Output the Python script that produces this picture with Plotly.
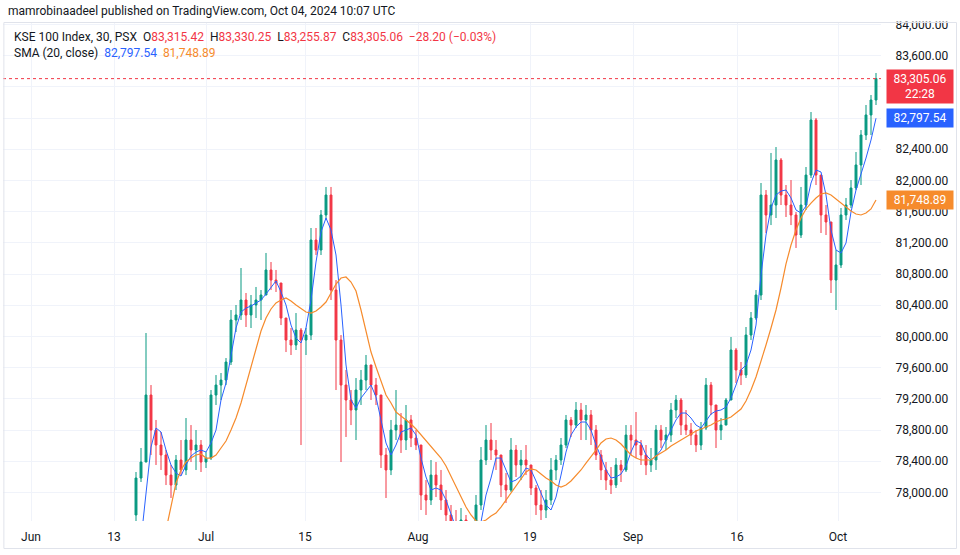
import plotly.graph_objects as go

# ---------------- data (30-min KSE 100 bars, aggregated) ----------------
opens = [
    77711, 78185, 78390, 79249, 78800, 78608, 78480, 78223, 78095, 78416,
    78288, 78672, 78544, 78608, 78390, 78441, 79249, 79377, 79441, 79672,
    80211, 80275, 80467, 80275, 80403, 80467, 80531, 80852, 80723, 80685,
    80236, 79954, 79890, 80082, 79954, 80018, 81236, 81108, 81557, 81813,
    80595, 79954, 79377, 79185, 79057, 79313, 79441, 79634, 79377, 79249,
    78480, 78288, 78800, 78864, 78672, 78929, 78698, 78608, 77967, 77903,
    78223, 78095, 77903, 77711, 77582, 77518, 77647, 77390, 77326, 77839,
    78416, 78672, 78544, 78480, 78095, 78031, 78544, 78352, 78416, 78352,
    78057, 77839, 77775, 77903, 78288, 78416, 78608, 78929, 78864, 79057,
    78929, 78993, 78800, 78480, 78288, 78159, 78095, 78352, 78288, 78736,
    78672, 78608, 78480, 78352, 78416, 78800, 78672, 78736, 79057, 79185,
    78864, 78800, 78736, 78608, 78826, 79377, 79121, 78800, 78864, 79185,
    79826, 79570, 79505, 80018, 80236, 80531, 81813, 81557, 81685, 82262,
    81813, 81685, 81557, 81300, 81685, 82069, 82775, 82069, 81557, 81467,
    80723, 80916, 81557, 81685, 81903, 82198, 82582, 82839, 83031,
]
highs = [
    78262, 78570, 80044, 79377, 78929, 78775, 78544, 78352, 78480, 78672,
    78954, 78864, 78800, 78672, 78518, 79313, 79505, 79531, 79723, 80339,
    80403, 80877, 80557, 80531, 80634, 80595, 81070, 80954, 80852, 80685,
    80236, 80108, 80300, 80108, 80108, 81390, 81390, 81621, 81916, 81916,
    80723, 80018, 79570, 79313, 79467, 79570, 79762, 79634, 79467, 79249,
    78570, 78929, 79313, 79018, 79121, 78993, 78800, 78608, 78159, 78416,
    78390, 78288, 78031, 77839, 77775, 77800, 77711, 77582, 77967, 78582,
    78864, 78890, 78672, 78480, 78249, 78698, 78608, 78544, 78608, 78352,
    78095, 78031, 78031, 78441, 78480, 78698, 78993, 78967, 79159, 79147,
    79121, 79057, 78864, 78544, 78390, 78326, 78441, 78416, 78864, 78864,
    79031, 78672, 78608, 78570, 78864, 78864, 78839, 79147, 79249, 79211,
    79057, 78890, 78800, 78903, 79467, 79416, 79121, 78954, 79211, 79993,
    79852, 79672, 80121, 80313, 80595, 81967, 81877, 82352, 82428, 82287,
    81941, 82005, 81595, 81916, 82172, 82877, 82800, 82069, 81685, 81467,
    81108, 81646, 81775, 82005, 82364, 82646, 82967, 83095, 83377,
]
lows = [
    77634, 78134, 78390, 78480, 78352, 78288, 78095, 77929, 78031, 78223,
    78223, 78390, 78288, 78262, 78313, 78416, 79121, 79185, 79377, 79634,
    80057, 80211, 80121, 80108, 80236, 80211, 80531, 80595, 80570, 80146,
    79800, 79762, 79826, 78608, 79762, 79954, 81044, 81044, 81493, 80467,
    79313, 78390, 78711, 78864, 78672, 79121, 79313, 79185, 79121, 78313,
    77929, 78223, 78672, 78506, 78544, 78582, 78544, 77775, 77711, 77839,
    77941, 77775, 77518, 77390, 77262, 77198, 77134, 77006, 77262, 77775,
    78352, 78416, 78288, 77941, 77865, 78006, 78198, 78159, 78223, 77967,
    77711, 77647, 77672, 77839, 78159, 78352, 78570, 78711, 78826, 78672,
    78672, 78608, 78416, 78159, 78031, 77980, 78057, 78134, 78262, 78480,
    78441, 78352, 78223, 78262, 78288, 78570, 78544, 78647, 78954, 78736,
    78736, 78608, 78518, 78544, 78800, 78993, 78570, 78672, 78864, 79185,
    79403, 79377, 79467, 79954, 80211, 80467, 81326, 81428, 81518, 81685,
    81531, 81428, 81134, 81262, 81621, 82031, 81941, 81326, 81300, 80557,
    80339, 80877, 81493, 81646, 81877, 81941, 82518, 82582, 82967,
]
closes = [
    78185, 78390, 79249, 78800, 78608, 78480, 78223, 78095, 78416, 78288,
    78672, 78544, 78608, 78390, 78441, 79249, 79377, 79441, 79672, 80211,
    80275, 80467, 80275, 80403, 80467, 80531, 80852, 80723, 80685, 80236,
    79954, 79890, 80082, 79954, 80018, 81236, 81108, 81557, 81813, 80595,
    79954, 79377, 79185, 79057, 79313, 79441, 79634, 79377, 79249, 78480,
    78288, 78800, 78864, 78672, 78929, 78698, 78608, 77967, 77903, 78223,
    78095, 77903, 77711, 77582, 77518, 77647, 77390, 77326, 77839, 78416,
    78672, 78544, 78480, 78095, 78031, 78544, 78352, 78416, 78352, 78057,
    77839, 77775, 77903, 78288, 78416, 78608, 78929, 78864, 79057, 78929,
    78993, 78800, 78480, 78288, 78159, 78095, 78352, 78288, 78736, 78672,
    78608, 78480, 78352, 78416, 78800, 78672, 78736, 79057, 79185, 78864,
    78800, 78736, 78608, 78826, 79377, 79121, 78800, 78864, 79185, 79826,
    79570, 79505, 80018, 80236, 80531, 81813, 81557, 81685, 82262, 81813,
    81685, 81557, 81300, 81685, 82069, 82775, 82069, 81557, 81467, 80723,
    80916, 81557, 81685, 81903, 82198, 82582, 82839, 83031, 83305.06,
]
sma_fast = [
    None, 77390, 78031, 78582, 78826, 78775, 78544, 78352, 78249, 78211,
    78352, 78467, 78518, 78544, 78518, 78634, 78800, 79185, 79403, 79762,
    80108, 80313, 80364, 80390, 80429, 80467, 80544, 80634, 80711, 80570,
    80403, 80146, 79980, 79916, 80108, 80467, 80954, 81339, 81518, 81364,
    81044, 80403, 79634, 79185, 79082, 79211, 79288, 79377, 79224, 78929,
    78634, 78480, 78608, 78775, 78800, 78826, 78736, 78441, 78198, 78031,
    78057, 78031, 77903, 77711, 77544, 77454, 77416, 77454, 77518, 77621,
    77967, 78185, 78441, 78441, 78288, 78134, 78159, 78211, 78313, 78288,
    78147, 77993, 77839, 77775, 77941, 78223, 78518, 78736, 78839, 78903,
    78903, 78800, 78608, 78454, 78288, 78185, 78198, 78236, 78339, 78518,
    78659, 78634, 78480, 78416, 78467, 78544, 78672, 78800, 78929, 79018,
    79018, 78954, 78864, 78826, 78916, 79006, 79044, 79057, 79095, 79211,
    79377, 79570, 79634, 79826, 80146, 80787, 81300, 81646, 81813, 81864,
    81877, 81775, 81621, 81582, 81672, 81967, 82134, 82108, 81813, 81364,
    81108, 81070, 81198, 81595, 81877, 82069, 82287, 82518, 82797.54,
]
sma_slow = [
    None, None, None, None, None, None, 77518, 77839, 78122, 78288,
    78390, 78441, 78480, 78493, 78441, 78441, 78480, 78570, 78659, 78800,
    78954, 79147, 79377, 79621, 79864, 80070, 80236, 80352, 80429, 80467,
    80493, 80454, 80403, 80352, 80313, 80300, 80326, 80377, 80441, 80557,
    80672, 80749, 80762, 80698, 80582, 80339, 80082, 79800, 79608, 79441,
    79249, 79147, 79031, 78980, 78929, 78877, 78813, 78736, 78672, 78595,
    78518, 78441, 78339, 78211, 78070, 77941, 77813, 77711, 77634, 77621,
    77647, 77698, 77736, 77813, 77903, 78006, 78095, 78185, 78262, 78301,
    78288, 78236, 78185, 78147, 78095, 78070, 78095, 78147, 78211, 78288,
    78377, 78454, 78544, 78634, 78685, 78698, 78672, 78621, 78544, 78480,
    78441, 78416, 78416, 78416, 78467, 78506, 78544, 78595, 78634, 78672,
    78711, 78749, 78788, 78813, 78839, 78864, 78903, 78929, 78942, 78967,
    79018, 79070, 79172, 79313, 79480, 79672, 79890, 80108, 80339, 80621,
    80929, 81172, 81364, 81518, 81634, 81710, 81775, 81826, 81839, 81813,
    81762, 81710, 81659, 81608, 81570, 81557, 81582, 81634, 81748.89,
]
bar_index = list(range(len(closes)))
tick_labels = ["Jun", "13", "Jul", "15", "Aug", "19", "Sep", "16", "Oct"]
tick_bars = [-21.0, -4.4, 14.0, 33.8, 56.4, 78.8, 99.4, 120.2, 140.4]
price_ticks = list(range(78000, 84001, 400))
hidden_price_labels = [83200, 82800]   # covered by the last-price / SMA tags

# ---------------- styles ----------------
UP = "#089981"
DOWN = "#F23645"
BLUE = "#2962FF"
ORANGE = "#F68B2C"
TXT = "#131722"
GRID = "#F0F3FA"
FONT = "Roboto, Arial, sans-serif"

fig = go.Figure()
fig.add_trace(go.Candlestick(
    x=bar_index, open=opens, high=highs, low=lows, close=closes,
    increasing=dict(line=dict(color=UP, width=1), fillcolor=UP),
    decreasing=dict(line=dict(color=DOWN, width=1), fillcolor=DOWN),
    whiskerwidth=0, showlegend=False, hoverinfo="skip",
))
fig.add_trace(go.Scatter(x=bar_index, y=sma_fast, mode="lines",
                         line=dict(color=BLUE, width=1), showlegend=False,
                         hoverinfo="skip", connectgaps=False))
fig.add_trace(go.Scatter(x=bar_index, y=sma_slow, mode="lines",
                         line=dict(color=ORANGE, width=1.2), showlegend=False,
                         hoverinfo="skip", connectgaps=False))

last_close = closes[-1]
fig.add_shape(type="line", xref="paper", yref="y", x0=0, x1=1,
              y0=last_close, y1=last_close,
              line=dict(color=DOWN, width=1, dash="dot"))

# cover above the frame, then the frame itself
fig.add_shape(type="rect", xref="paper", yref="paper", x0=-0.01, x1=1.1,
              y0=1.001, y1=1.06, fillcolor="white", line=dict(width=0),
              layer="above")
fig.add_shape(type="rect", xref="paper", yref="paper", x0=0.001, x1=1.086,
              y0=-0.0551, y1=0.999, line=dict(color="#E0E3EB", width=1),
              fillcolor="rgba(0,0,0,0)", layer="above")

def red(s):
    return f"<span style='color:{DOWN}'>{s}</span>"

nb = "\u00a0"
line1 = (f"KSE 100 Index, 30, PSX{nb}{nb}O{red('83,315.42')}{nb}{nb}H{red('83,330.25')}"
         f"{nb}{nb}L{red('83,255.87')}{nb}{nb}C{red('83,305.06')}{nb}{nb}{red('−28.20 (−0.03%)')}")
line2 = (f"SMA (20, close){nb}{nb}<span style='color:{BLUE}'>{sma_fast[-1]:,.2f}</span>"
         f"{nb}{nb}<span style='color:{ORANGE}'>{sma_slow[-1]:,.2f}</span>")

annotations = [
    dict(text="mamrobinaadeel published on TradingView.com, Oct 04, 2024 10:07 UTC",
         xref="paper", yref="paper", x=0.003, y=1.022, xanchor="left", yanchor="middle",
         showarrow=False, font=dict(family=FONT, size=12, color=TXT)),
    dict(text=line1, xref="paper", yref="paper", x=0.0105, y=0.970, xanchor="left",
         yanchor="middle", showarrow=False, font=dict(family=FONT, size=12, color=TXT)),
    dict(text=line2, xref="paper", yref="paper", x=0.0105, y=0.938, xanchor="left",
         yanchor="middle", showarrow=False, font=dict(family=FONT, size=12, color=TXT)),
    dict(text=f"{last_close:,.2f}<br>22:28", xref="paper", yref="y", x=1.0057,
         y=83204, xanchor="left", yanchor="middle", showarrow=False,
         bgcolor=DOWN, width=62, height=29, borderpad=2, align="center",
         font=dict(family=FONT, size=12, color="white")),
    dict(text=f"{sma_fast[-1]:,.2f}", xref="paper", yref="y", x=1.0057,
         y=sma_fast[-1], xanchor="left", yanchor="middle", showarrow=False,
         bgcolor=BLUE, width=62, height=14, borderpad=2, align="center",
         font=dict(family=FONT, size=12, color="white")),
    dict(text=f"{sma_slow[-1]:,.2f}", xref="paper", yref="y", x=1.0057,
         y=sma_slow[-1], xanchor="left", yanchor="middle", showarrow=False,
         bgcolor=ORANGE, width=62, height=14, borderpad=2, align="center",
         font=dict(family=FONT, size=12, color="white")),
]

fig.update_layout(
    width=960, height=555,
    margin=dict(l=3, r=79, t=22, b=34),
    paper_bgcolor="white", plot_bgcolor="white",
    font=dict(family=FONT, size=12, color=TXT),
    showlegend=False,
    boxgap=0.45,
    annotations=annotations,
    xaxis=dict(range=[-26.6, 149], tickmode="array", tickvals=tick_bars,
               ticktext=tick_labels, showgrid=True, gridcolor=GRID, gridwidth=1,
               zeroline=False, showline=False, ticks="outside", ticklen=5,
               tickcolor="rgba(0,0,0,0)", rangeslider=dict(visible=False),
               tickfont=dict(family=FONT, size=12, color=TXT), fixedrange=True),
    yaxis=dict(side="right", range=[77634, 84031], tickmode="array",
               tickvals=price_ticks,
               ticktext=["" if v in hidden_price_labels else f"{v:,.2f}" for v in price_ticks],
               showgrid=True, gridcolor=GRID, gridwidth=1, zeroline=False,
               showline=False, ticks="outside", ticklen=11,
               tickcolor="rgba(0,0,0,0)",
               tickfont=dict(family=FONT, size=12, color=TXT), fixedrange=True),
)

fig.write_html("out.html")
